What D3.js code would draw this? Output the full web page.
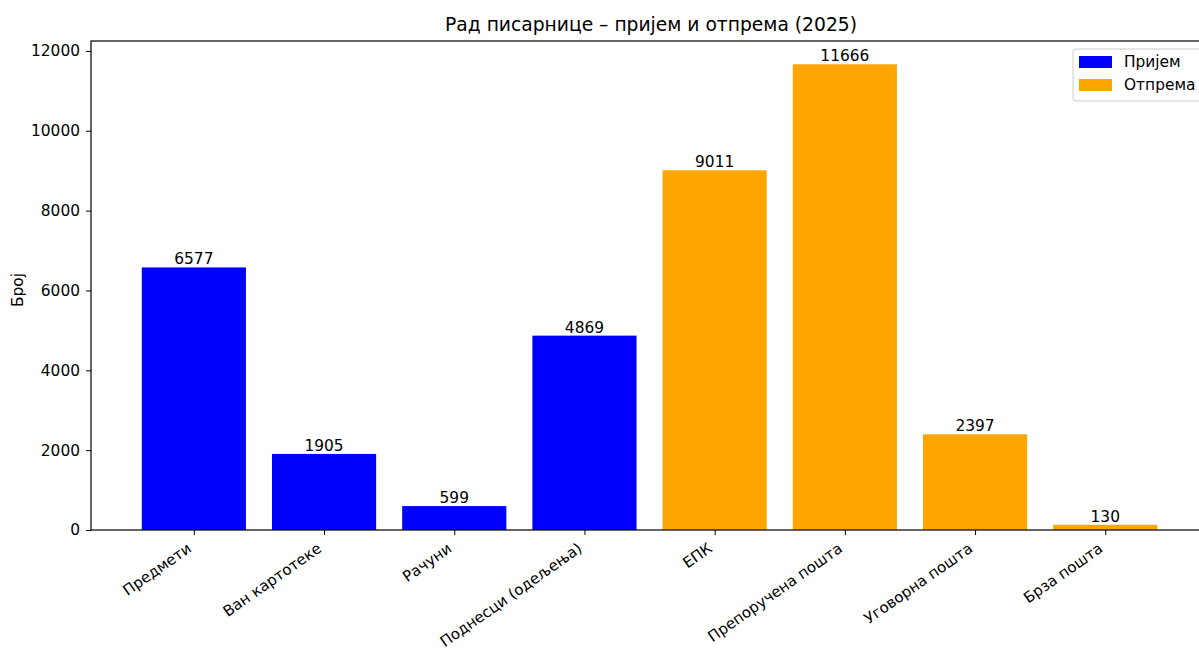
<!DOCTYPE html>
<html><head><meta charset="utf-8">
<script src="https://cdn.jsdelivr.net/npm/d3@7"></script>
<style>body{margin:0;background:#fff}text{font-family:"DejaVu Sans",sans-serif;fill:#000}</style>
</head><body>
<svg id="c" width="1199" height="653"></svg>
<script>
const categories = ["Предмети","Ван картотеке","Рачуни","Поднесци (одељења)","ЕПК","Препоручена пошта","Уговорна пошта","Брза пошта"];
const values = [6577,1905,599,4869,9011,11666,2397,130];
const groups = ["Пријем","Пријем","Пријем","Пријем","Отпрема","Отпрема","Отпрема","Отпрема"];
const legendLabels = ["Пријем","Отпрема"];
const legendColors = ["#0000ff","#ffa500"];
const yTicks = [0,2000,4000,6000,8000,10000,12000];

const svg = d3.select("#c");
const L = 91, T = 41, B = 530;
const step = 130.2;
const R = L + 8.58*step;
const x = d3.scaleLinear().domain([-0.79, 7.79]).range([L, R]);
const y = d3.scaleLinear().domain([0, 11666*1.05]).range([B, T]);
const color = d3.scaleOrdinal().domain(legendLabels).range(legendColors);
const fs = 15.4;

svg.append("g").selectAll("rect").data(values).join("rect")
  .attr("x",(d,i)=>x(i-0.4)).attr("width",(d,i)=>x(i+0.4)-x(i-0.4))
  .attr("y",d=>y(d)).attr("height",d=>y(0)-y(d))
  .attr("fill",(d,i)=>color(groups[i]));

svg.append("g").selectAll("text").data(values).join("text")
  .attr("x",(d,i)=>x(i)).attr("y",d=>y(d)-3)
  .attr("text-anchor","middle").style("font-size",fs+"px").text(d=>d);

// y axis
const ya = svg.append("g").attr("transform",`translate(${L},0)`)
  .call(d3.axisLeft(y).tickValues(yTicks).tickSize(5).tickPadding(6).tickFormat(d3.format("d")));
ya.select(".domain").remove();
ya.selectAll("text").style("font-size",fs+"px").style("font-family","DejaVu Sans");
ya.selectAll("line").attr("stroke","#000").attr("stroke-width",1);

// x axis
const xa = svg.append("g").attr("transform",`translate(0,${B})`)
  .call(d3.axisBottom(x).tickValues(d3.range(categories.length)).tickSize(5).tickFormat(i=>categories[i]));
xa.select(".domain").remove();
xa.selectAll("line").attr("stroke","#000");
xa.selectAll("text").style("font-size","15px").style("font-family","DejaVu Sans")
  .attr("text-anchor","end").attr("y",0)
  .attr("transform","translate(-8,12) rotate(-35)").attr("dy","0.71em");

// frame
svg.append("rect").attr("x",L).attr("y",T).attr("width",R-L).attr("height",B-T)
  .attr("fill","none").attr("stroke","#000").attr("stroke-width",1.2);

// title
svg.append("text").attr("x",651).attr("y",31).attr("text-anchor","middle")
  .style("font-size","18.7px").text("Рад писарнице – пријем и отпрема (2025)");

// y label
svg.append("text").attr("transform","translate(23,290) rotate(-90)").attr("text-anchor","middle")
  .style("font-size",fs+"px").text("Број");

// legend
const lg = svg.append("g").attr("transform","translate(1073,49)");
lg.append("rect").attr("width",150).attr("height",52).attr("rx",3)
  .attr("fill","#fff").attr("stroke","#ccc");
legendLabels.forEach((l,i)=>{
  lg.append("rect").attr("x",6).attr("y",7+i*23).attr("width",33).attr("height",12).attr("fill",legendColors[i]);
  lg.append("text").attr("x",51).attr("y",18+i*23).style("font-size",fs+"px").text(l);
});
</script>
</body></html>
